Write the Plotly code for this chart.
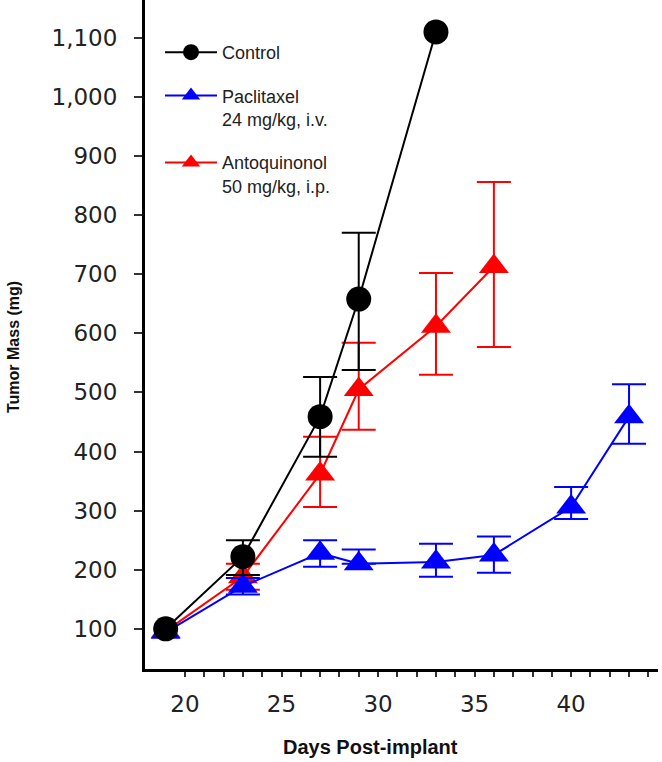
import numpy as np
import plotly.graph_objects as go

# Data
days_control = [19, 23, 27, 29, 33]
mass_control = [100, 222, 459, 658, 1110]
err_control_plus = np.array([np.nan, 28, 67, 112, np.nan])
err_control_minus = np.array([np.nan, 31, 68, 120, np.nan])

days_pac = [19, 23, 27, 29, 33, 36, 40, 43]
mass_pac = [94, 172, 228, 210, 213, 225, 306, 459]
err_pac_plus = np.array([np.nan, 14, 22, 24, 31, 31, 34, 55])
err_pac_minus = np.array([np.nan, 14, 23, 0, 25, 30, 20, 46])

days_anto = [19, 23, 27, 29, 33, 36]
mass_anto = [96, 188, 362, 505, 612, 713]
err_anto_plus = np.array([np.nan, 22, 63, 79, 90, 143])
err_anto_minus = np.array([np.nan, 22, 56, 68, 82, 136])

y_ticks = [100, 200, 300, 400, 500, 600, 700, 800, 900, 1000, 1100]
x_tick_days = list(range(20, 45))
x_tick_labels = [str(d) if d % 5 == 0 else "" for d in x_tick_days]

legend_font = dict(family="Liberation Sans, Arial, sans-serif", size=18, color="#222")

fig = go.Figure()

fig.add_trace(go.Scatter(
    x=days_anto, y=mass_anto, mode="lines+markers",
    name="Antoquinonol<br>50 mg/kg, i.p.",
    line=dict(color="#ff0000", width=2),
    marker=dict(symbol="triangle-up", size=26, color="#ff0000"),
    error_y=dict(type="data", array=err_anto_plus, arrayminus=err_anto_minus,
                 color="#ff0000", thickness=2, width=17),
    legendrank=3, legendgroup="c",
))
fig.add_trace(go.Scatter(
    x=days_pac, y=mass_pac, mode="lines+markers",
    name="Paclitaxel<br>24 mg/kg, i.v.",
    line=dict(color="#0000ff", width=2),
    marker=dict(symbol="triangle-up", size=26, color="#0000ff"),
    error_y=dict(type="data", array=err_pac_plus, arrayminus=err_pac_minus,
                 color="#0000ff", thickness=2, width=17),
    legendrank=2, legendgroup="b",
))
fig.add_trace(go.Scatter(
    x=days_control, y=mass_control, mode="lines+markers",
    name="Control",
    line=dict(color="#000000", width=2),
    marker=dict(symbol="circle", size=25, color="#000000"),
    error_y=dict(type="data", array=err_control_plus, arrayminus=err_control_minus,
                 color="#000000", thickness=2, width=17),
    legendrank=1, legendgroup="a",
))

L, R, T, B = 145, 4, 0, 93
W, H = 662, 762
pw = W - L - R
ph = H - T - B

fig.update_layout(
    width=W, height=H,
    margin=dict(l=L, r=R, t=T, b=B, autoexpand=False),
    plot_bgcolor="white", paper_bgcolor="white",
    showlegend=True,
    legend=dict(
        x=(160 - L) / pw, y=1 - 34 / ph, xanchor="left", yanchor="top",
        font=legend_font, bgcolor="rgba(0,0,0,0)", valign="top",
        tracegroupgap=17, itemwidth=52,
    ),
    xaxis=dict(
        range=[17.93, 44.5], showgrid=False, zeroline=False,
        showline=True, linecolor="black", linewidth=3,
        tickmode="array", tickvals=x_tick_days, ticktext=x_tick_labels,
        ticks="outside", ticklen=5, tickwidth=1.5, tickcolor="#333",
        tickfont=dict(family="DejaVu Sans, Verdana, sans-serif", size=23, color="#222"),
        ticklabelstandoff=7,
    ),
    yaxis=dict(
        range=[32, 1164], showgrid=False, zeroline=False,
        showline=True, linecolor="black", linewidth=3,
        tickmode="array", tickvals=y_ticks, ticktext=[f"{v:,}" for v in y_ticks],
        ticks="outside", ticklen=8, tickwidth=1.5, tickcolor="#333",
        tickfont=dict(family="DejaVu Sans, Verdana, sans-serif", size=23, color="#222"),
        ticklabelstandoff=12,
    ),
    annotations=[
        dict(text="<b>Tumor Mass (mg)</b>", xref="paper", yref="paper",
             x=(13 - L) / pw, y=1 - (347 - T) / ph, textangle=-90,
             showarrow=False, xanchor="center", yanchor="middle",
             font=dict(family="Liberation Sans, Arial, sans-serif", size=16, color="#111")),
        dict(text="<b>Days Post-implant</b>", xref="paper", yref="paper",
             x=(370 - L) / pw, y=1 - (747 - T) / ph,
             showarrow=False, xanchor="center", yanchor="middle",
             font=dict(family="Liberation Sans, Arial, sans-serif", size=20, color="#111")),
    ],
)

fig.write_html("out.html", config={"displayModeBar": False},
               post_script="document.body.style.margin='0';")
